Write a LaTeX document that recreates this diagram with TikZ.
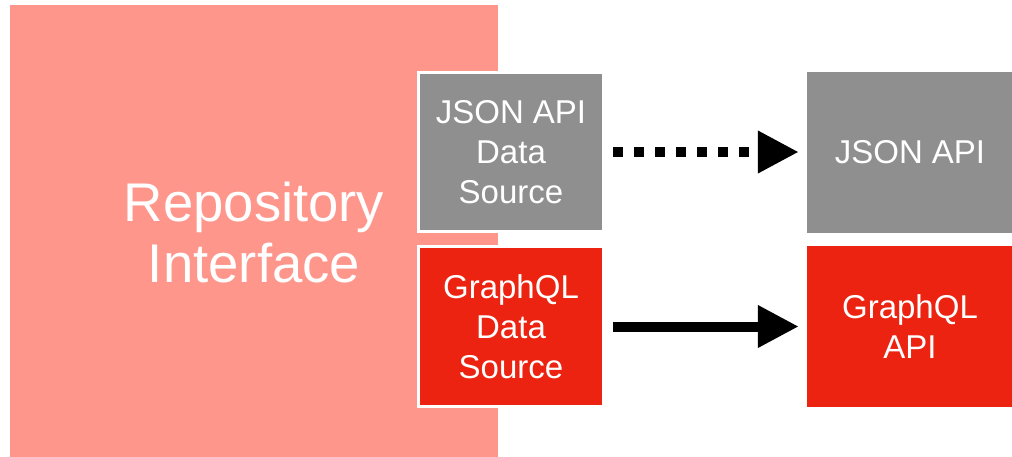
\documentclass[tikz,border=0pt]{standalone}
\usepackage{fontspec}
\setmainfont{Liberation Sans}
\usetikzlibrary{arrows.meta}
\definecolor{pinkbg}{HTML}{FE968B}
\definecolor{boxgray}{HTML}{8F8F8F}
\definecolor{boxred}{HTML}{EC2311}
\tikzset{
  srcbox/.style={draw=white, line width=3pt, text=white, align=center,
    minimum width=185pt, inner sep=0pt, font=\fontsize{33}{40}\selectfont},
  apibox/.style={draw=none, text=white, align=center, minimum width=206pt,
    minimum height=161pt, inner sep=0pt, font=\fontsize{33}{40}\selectfont},
  conn/.style={line width=10pt, line cap=butt,
    -{Triangle[length=41pt,width=40pt]}, shorten <=8pt, shorten >=8pt},
}
\begin{document}
\begin{tikzpicture}[x=1pt,y=-1pt]
\useasboundingbox (0,0) rectangle (1012,456);
\fill[white] (0,0) rectangle (1012,456);
\node[fill=pinkbg, minimum width=488pt, minimum height=455pt, inner sep=0pt,
  text=white, align=center, font=\fontsize{54.5}{61}\selectfont]
  (repo) at (254,232.5) {Repository\\Interface};
\node[srcbox, fill=boxgray, minimum height=159pt] (jsonds) at (511,152) {JSON API\\Data\\Source};
\node[srcbox, fill=boxred, minimum height=160pt] (gqlds) at (511,326.5) {GraphQL\\Data\\Source};
\node[apibox, fill=boxgray] (jsonapi) at (910,152) {JSON API};
\node[apibox, fill=boxred] (gqlapi) at (910,326.5) {GraphQL\\API};
\draw[conn, dash pattern=on 10pt off 11pt] (jsonds) -- (jsonapi);
\draw[conn] (gqlds) -- (gqlapi);
\end{tikzpicture}
\end{document}
